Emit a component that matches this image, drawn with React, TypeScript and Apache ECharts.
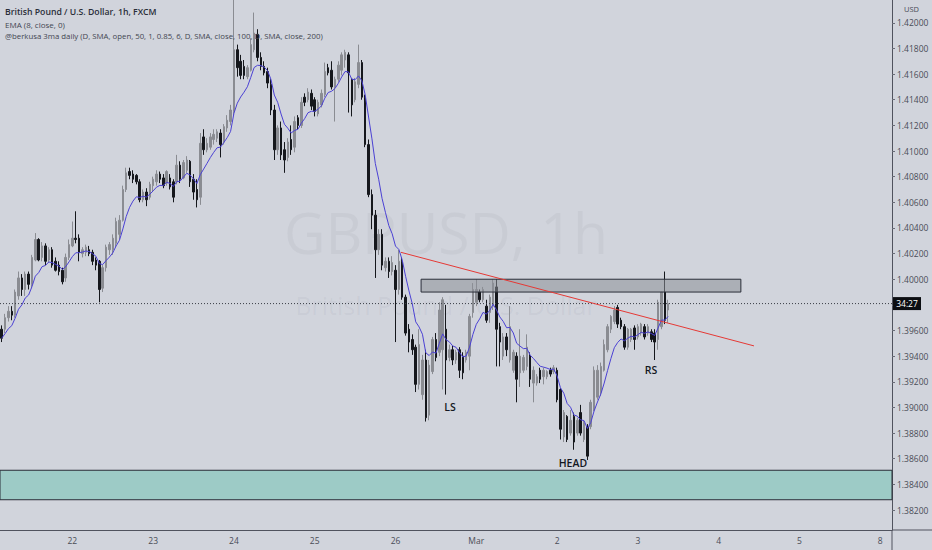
import { useEffect, useRef } from 'react';
import * as echarts from 'echarts';

// GBPUSD 1h (FXCM), one value per hourly candle
const opens = [
  1.3961, 1.3961, 1.3970, 1.3975, 1.3972, 1.3987, 1.4001, 1.3992, 1.4004, 1.3996,
  1.4015, 1.4031, 1.4017, 1.4026, 1.4015, 1.4023, 1.4014, 1.4011, 1.4007, 1.4001,
  1.4017, 1.4026, 1.4032, 1.4032, 1.4020, 1.4021, 1.4023, 1.4021, 1.4015, 1.4014,
  1.3993, 1.4009, 1.4023, 1.4023, 1.4028, 1.4035, 1.4046, 1.4070, 1.4084, 1.4082,
  1.4081, 1.4076, 1.4062, 1.4068, 1.4064, 1.4073, 1.4076, 1.4082, 1.4079, 1.4075,
  1.4079, 1.4076, 1.4076, 1.4089, 1.4079, 1.4085, 1.4092, 1.4078, 1.4070, 1.4064,
  1.4111, 1.4101, 1.4103, 1.4109, 1.4110, 1.4114, 1.4107, 1.4118, 1.4123, 1.4131,
  1.4179, 1.4170, 1.4166, 1.4158, 1.4163, 1.4179, 1.4191, 1.4173, 1.4166, 1.4162,
  1.4152, 1.4132, 1.4101, 1.4118, 1.4101, 1.4095, 1.4109, 1.4103, 1.4126, 1.4120,
  1.4142, 1.4140, 1.4145, 1.4140, 1.4129, 1.4136, 1.4144, 1.4165, 1.4163, 1.4150,
  1.4156, 1.4163, 1.4171, 1.4175, 1.4156, 1.4140, 1.4152, 1.4169, 1.4142, 1.4105,
  1.4066, 1.4050, 1.4023, 1.4035, 1.4009, 1.4014, 1.4006, 1.4007, 1.3992, 1.4014,
  1.3986, 1.3961, 1.3953, 1.3947, 1.3918, 1.3910, 1.3937, 1.3894, 1.3928, 1.3953,
  1.3943, 1.3945, 1.3961, 1.3939, 1.3945, 1.3937, 1.3945, 1.3940, 1.3937, 1.3940,
  1.3974, 1.3982, 1.3990, 1.3984, 1.3979, 1.3974, 1.3979, 1.3994, 1.3963, 1.3940,
  1.3955, 1.3937, 1.3929, 1.3940, 1.3927, 1.3929, 1.3932, 1.3940, 1.3919, 1.3919,
  1.3929, 1.3924, 1.3924, 1.3929, 1.3928, 1.3929, 1.3914, 1.3877, 1.3893, 1.3880,
  1.3893, 1.3880, 1.3896, 1.3875, 1.3885, 1.3885, 1.3898, 1.3908, 1.3912, 1.3929,
  1.3945, 1.3961, 1.3967, 1.3978, 1.3968, 1.3963, 1.3947, 1.3953, 1.3962, 1.3955,
  1.3958, 1.3963, 1.3958, 1.3959, 1.3958, 1.3953, 1.3963, 1.3990, 1.3976,
];
const closes = [
  1.3954, 1.3970, 1.3975, 1.3972, 1.3990, 1.4001, 1.3992, 1.4004, 1.3996, 1.4017,
  1.4031, 1.4015, 1.4026, 1.4014, 1.4023, 1.4011, 1.4007, 1.4006, 1.3998, 1.4017,
  1.4027, 1.4032, 1.4031, 1.4021, 1.4023, 1.4025, 1.4020, 1.4014, 1.4011, 1.3992,
  1.4009, 1.4025, 1.4027, 1.4032, 1.4045, 1.4046, 1.4070, 1.4083, 1.4081, 1.4078,
  1.4076, 1.4062, 1.4068, 1.4062, 1.4074, 1.4078, 1.4082, 1.4078, 1.4073, 1.4084,
  1.4072, 1.4064, 1.4089, 1.4078, 1.4091, 1.4093, 1.4076, 1.4068, 1.4062, 1.4106,
  1.4101, 1.4106, 1.4111, 1.4113, 1.4115, 1.4105, 1.4119, 1.4124, 1.4132, 1.4179,
  1.4165, 1.4159, 1.4159, 1.4165, 1.4183, 1.4192, 1.4173, 1.4166, 1.4161, 1.4153,
  1.4132, 1.4101, 1.4118, 1.4097, 1.4093, 1.4107, 1.4101, 1.4123, 1.4120, 1.4138,
  1.4138, 1.4146, 1.4135, 1.4131, 1.4138, 1.4145, 1.4162, 1.4161, 1.4150, 1.4156,
  1.4167, 1.4175, 1.4177, 1.4161, 1.4136, 1.4154, 1.4169, 1.4142, 1.4105, 1.4066,
  1.4050, 1.4023, 1.4035, 1.4011, 1.4014, 1.4006, 1.4013, 1.3992, 1.4014, 1.3986,
  1.3958, 1.3951, 1.3945, 1.3918, 1.3949, 1.3937, 1.3892, 1.3933, 1.3953, 1.3939,
  1.3976, 1.3984, 1.3937, 1.3945, 1.3937, 1.3943, 1.3929, 1.3927, 1.3943, 1.3971,
  1.3992, 1.3992, 1.3984, 1.3992, 1.3968, 1.3986, 1.3997, 1.3961, 1.3951, 1.3955,
  1.3945, 1.3963, 1.3943, 1.3922, 1.3940, 1.3939, 1.3947, 1.3922, 1.3929, 1.3924,
  1.3922, 1.3929, 1.3928, 1.3926, 1.3931, 1.3906, 1.3883, 1.3896, 1.3875, 1.3890,
  1.3873, 1.3890, 1.3880, 1.3888, 1.3862, 1.3904, 1.3929, 1.3929, 1.3932, 1.3949,
  1.3963, 1.3971, 1.3976, 1.3965, 1.3963, 1.3947, 1.3961, 1.3961, 1.3953, 1.3963,
  1.3965, 1.3955, 1.3963, 1.3953, 1.3951, 1.3982, 1.3990, 1.3968, 1.3981,
];
const lows = [
  1.3951, 1.3958, 1.3967, 1.3968, 1.3970, 1.3984, 1.3987, 1.3987, 1.3992, 1.3993,
  1.4014, 1.4014, 1.4014, 1.4011, 1.4013, 1.4009, 1.4006, 1.4003, 1.3996, 1.3998,
  1.4015, 1.4025, 1.4028, 1.4014, 1.4017, 1.4018, 1.4018, 1.4011, 1.4007, 1.3982,
  1.3990, 1.4006, 1.4019, 1.4019, 1.4025, 1.4031, 1.4045, 1.4068, 1.4078, 1.4075,
  1.4074, 1.4060, 1.4060, 1.4057, 1.4062, 1.4068, 1.4073, 1.4075, 1.4071, 1.4073,
  1.4070, 1.4060, 1.4074, 1.4075, 1.4078, 1.4083, 1.4072, 1.4062, 1.4056, 1.4058,
  1.4097, 1.4099, 1.4101, 1.4105, 1.4107, 1.4095, 1.4105, 1.4115, 1.4120, 1.4128,
  1.4158, 1.4156, 1.4156, 1.4156, 1.4162, 1.4177, 1.4170, 1.4163, 1.4159, 1.4149,
  1.4128, 1.4093, 1.4097, 1.4093, 1.4083, 1.4092, 1.4097, 1.4099, 1.4117, 1.4118,
  1.4135, 1.4138, 1.4132, 1.4127, 1.4127, 1.4134, 1.4142, 1.4159, 1.4148, 1.4123,
  1.4154, 1.4159, 1.4165, 1.4130, 1.4127, 1.4138, 1.4149, 1.4140, 1.4103, 1.4064,
  1.4039, 1.4001, 1.4019, 1.4007, 1.4006, 1.4001, 1.4003, 1.3951, 1.3988, 1.3984,
  1.3956, 1.3943, 1.3941, 1.3912, 1.3914, 1.3906, 1.3889, 1.3890, 1.3926, 1.3936,
  1.3940, 1.3914, 1.3910, 1.3936, 1.3933, 1.3934, 1.3923, 1.3922, 1.3935, 1.3929,
  1.3970, 1.3979, 1.3982, 1.3982, 1.3966, 1.3966, 1.3976, 1.3932, 1.3932, 1.3937,
  1.3940, 1.3935, 1.3927, 1.3904, 1.3916, 1.3927, 1.3929, 1.3916, 1.3904, 1.3917,
  1.3919, 1.3918, 1.3922, 1.3924, 1.3926, 1.3904, 1.3875, 1.3873, 1.3873, 1.3878,
  1.3867, 1.3878, 1.3878, 1.3873, 1.3859, 1.3883, 1.3897, 1.3906, 1.3909, 1.3928,
  1.3943, 1.3958, 1.3965, 1.3962, 1.3961, 1.3945, 1.3945, 1.3951, 1.3945, 1.3953,
  1.3956, 1.3953, 1.3956, 1.3951, 1.3937, 1.3945, 1.3961, 1.3965, 1.3966,
];
const highs = [
  1.3964, 1.3973, 1.3979, 1.3979, 1.3992, 1.4006, 1.4004, 1.4006, 1.4006, 1.4019,
  1.4036, 1.4032, 1.4029, 1.4028, 1.4025, 1.4025, 1.4017, 1.4014, 1.4009, 1.4020,
  1.4031, 1.4045, 1.4053, 1.4035, 1.4025, 1.4027, 1.4026, 1.4023, 1.4017, 1.4015,
  1.4011, 1.4027, 1.4029, 1.4035, 1.4048, 1.4050, 1.4073, 1.4087, 1.4087, 1.4085,
  1.4082, 1.4078, 1.4070, 1.4071, 1.4076, 1.4080, 1.4085, 1.4084, 1.4082, 1.4085,
  1.4082, 1.4078, 1.4097, 1.4092, 1.4093, 1.4096, 1.4093, 1.4082, 1.4078, 1.4114,
  1.4117, 1.4110, 1.4114, 1.4117, 1.4117, 1.4117, 1.4121, 1.4128, 1.4136, 1.4234,
  1.4183, 1.4175, 1.4171, 1.4167, 1.4188, 1.4208, 1.4195, 1.4177, 1.4170, 1.4165,
  1.4156, 1.4136, 1.4120, 1.4123, 1.4107, 1.4110, 1.4120, 1.4127, 1.4128, 1.4142,
  1.4145, 1.4149, 1.4148, 1.4142, 1.4140, 1.4148, 1.4169, 1.4168, 1.4170, 1.4158,
  1.4170, 1.4177, 1.4179, 1.4177, 1.4157, 1.4157, 1.4183, 1.4171, 1.4144, 1.4109,
  1.4070, 1.4054, 1.4039, 1.4039, 1.4017, 1.4017, 1.4018, 1.4011, 1.4023, 1.4017,
  1.3988, 1.3965, 1.3957, 1.3949, 1.3961, 1.3941, 1.3945, 1.3937, 1.3955, 1.3958,
  1.3982, 1.3986, 1.3980, 1.3949, 1.3948, 1.3945, 1.3947, 1.3943, 1.3945, 1.3973,
  1.3997, 1.4000, 1.3992, 1.3994, 1.3984, 1.3988, 1.4000, 1.4000, 1.3966, 1.3958,
  1.3958, 1.3979, 1.3945, 1.3943, 1.3961, 1.3941, 1.3957, 1.3943, 1.3932, 1.3926,
  1.3931, 1.3931, 1.3929, 1.3931, 1.3933, 1.3931, 1.3915, 1.3898, 1.3894, 1.3898,
  1.3896, 1.3892, 1.3902, 1.3890, 1.3887, 1.3906, 1.3932, 1.3933, 1.3935, 1.3953,
  1.3965, 1.3972, 1.3979, 1.3980, 1.3970, 1.3965, 1.3962, 1.3962, 1.3964, 1.3965,
  1.3966, 1.3965, 1.3965, 1.3961, 1.3961, 1.3984, 1.3990, 1.4006, 1.3984,
];

// time axis: hourly slots, day labels at the first hour of each trading day
const dayLabels = ['22', '23', '24', '25', '26', 'Mar', '2', '3', '4', '5', '8'];
const dayStarts = [21, 45, 69, 93, 117, 141, 165, 189, 213, 237, 261];
const SLOT_COUNT = 265;

const Y_MIN = 1.38044;
const Y_MAX = 1.42178;

// drawings
const zonePrices = [1.3851, 1.3828];
const boxSlots = [124.6, 219.6];
const boxPrices = [1.4, 1.399];
const trendSlots = [118.6, 223.5];
const trendPrices = [1.4021, 1.3948];
const patternNames = ['LS', 'HEAD', 'RS'];
const patternSlots = [133.2, 169.7, 192.9];
const patternPrices = [1.39, 1.3857, 1.3929];

const BG = '#d1d4dc';
const FONT = '"Open Sans", "Noto Sans", sans-serif';
const GRID_RIGHT = 40;
const GRID_BOTTOM = 20;

export default function App() {
  const chartRef = useRef<HTMLDivElement>(null);

  useEffect(() => {
    if (!chartRef.current) return;
    const chart = echarts.init(chartRef.current, undefined, { renderer: 'svg' });

    const slots = Array.from({ length: SLOT_COUNT }, (_, i) => String(i));
    const isDayStart = (idx: number) => dayStarts.includes(idx);
    const candles = opens.map((o, i) => [o, closes[i], lows[i], highs[i]]);

    // EMA (8, close)
    const ema: number[] = [];
    closes.forEach((c, i) => {
      ema.push(i === 0 ? c : ema[i - 1] + ((c - ema[i - 1]) * 2) / 9);
    });
    const lastClose = closes[closes.length - 1];

    chart.setOption({
      animation: false,
      backgroundColor: BG,
      grid: { left: 0, right: GRID_RIGHT, top: 0, bottom: GRID_BOTTOM, containLabel: false },
      xAxis: {
        type: 'category',
        data: slots,
        boundaryGap: true,
        axisLine: { lineStyle: { color: '#50535e', width: 1 } },
        axisTick: { interval: isDayStart, alignWithLabel: true, length: 3, lineStyle: { color: '#6a6d78' } },
        axisLabel: {
          interval: isDayStart,
          formatter: (_v: string, idx: number) => dayLabels[dayStarts.indexOf(idx)] ?? '',
          fontSize: 8.5,
          fontFamily: FONT,
          color: '#4a4d57',
          margin: 6,
        },
        splitLine: { show: false },
      },
      yAxis: {
        type: 'value',
        position: 'right',
        min: Y_MIN,
        max: Y_MAX,
        splitNumber: 20,
        axisLine: { show: true, lineStyle: { color: '#50535e', width: 1 } },
        axisTick: { show: true, length: 3, lineStyle: { color: '#6a6d78' } },
        axisLabel: {
          // the 1.39800 label sits under the last-price tag
          formatter: (v: number) => (Math.abs(v - 1.398) < 1e-7 ? '' : v.toFixed(5)),
          fontSize: 8.5,
          fontFamily: FONT,
          color: '#4a4d57',
          margin: 5,
          showMinLabel: false,
          showMaxLabel: false,
        },
        splitLine: { show: false },
      },
      series: [
        {
          name: 'GBPUSD',
          type: 'candlestick',
          data: candles,
          barWidth: 2,
          clip: true,
          itemStyle: {
            color: '#8a8c92',
            color0: '#15171c',
            borderColor: '#8a8c92',
            borderColor0: '#15171c',
            borderWidth: 1,
          },
          markArea: {
            silent: true,
            itemStyle: { color: '#9dcbc6', borderColor: '#2a2e39', borderWidth: 1 },
            data: [[{ yAxis: zonePrices[0] }, { yAxis: zonePrices[1] }]],
          },
        },
        {
          name: 'EMA 8',
          type: 'line',
          data: ema,
          showSymbol: false,
          smooth: false,
          z: 3,
          lineStyle: { color: '#4b41d4', width: 1 },
        },
      ],
    });

    const toPx = (slot: number, price: number) => {
      const a = chart.convertToPixel({ gridIndex: 0 }, [0, price]) as number[];
      const b = chart.convertToPixel({ gridIndex: 0 }, [1, price]) as number[];
      return [a[0] + slot * (b[0] - a[0]), a[1]];
    };

    const W = chart.getWidth();
    const H = chart.getHeight();
    const plotRight = W - GRID_RIGHT;
    const plotBottom = H - GRID_BOTTOM;
    const midX = plotRight / 2;

    const boxTL = toPx(boxSlots[0], boxPrices[0]);
    const boxBR = toPx(boxSlots[1], boxPrices[1]);
    const t1 = toPx(trendSlots[0], trendPrices[0]);
    const t2 = toPx(trendSlots[1], trendPrices[1]);
    const lastY = toPx(0, lastClose)[1];

    const graphic: any[] = [
      // watermark
      {
        type: 'text', x: midX, y: 232, z: 0,
        style: { text: 'GBPUSD, 1h', fontSize: 57, fontFamily: FONT, fill: 'rgba(110,115,130,0.08)', textAlign: 'center', textVerticalAlign: 'middle' },
      },
      {
        type: 'text', x: midX, y: 305, z: 0,
        style: { text: 'British Pound / U.S. Dollar', fontSize: 25, fontFamily: FONT, fill: 'rgba(110,115,130,0.08)', textAlign: 'center', textVerticalAlign: 'middle' },
      },
      // legend
      {
        type: 'text', x: 5, y: 12, z: 20,
        style: { text: 'British Pound / U.S. Dollar, 1h, FXCM', fontSize: 8.7, fontWeight: 600, fontFamily: FONT, fill: '#2a2e39', textVerticalAlign: 'middle' },
      },
      {
        type: 'text', x: 5, y: 24, z: 20,
        style: { text: 'EMA (8, close, 0)', fontSize: 8, fontFamily: FONT, fill: '#434651', textVerticalAlign: 'middle' },
      },
      {
        type: 'text', x: 5, y: 36, z: 20,
        style: { text: '@berkusa 3ma daily (D, SMA, open, 50, 1, 0.85, 6, D, SMA, close, 100, D, SMA, close, 200)', fontSize: 7.8, fontFamily: FONT, fill: '#434651', textVerticalAlign: 'middle' },
      },
      // last price line
      {
        type: 'line', z: 4,
        shape: { x1: 0, y1: lastY, x2: plotRight, y2: lastY },
        style: { stroke: '#3a3d46', lineWidth: 1, lineDash: [1, 2] },
      },
      // resistance box
      {
        type: 'rect', z: 10,
        shape: { x: boxTL[0], y: boxTL[1], width: boxBR[0] - boxTL[0], height: boxBR[1] - boxTL[1] },
        style: { fill: 'rgba(140,143,152,0.55)', stroke: '#2a2e39', lineWidth: 1 },
      },
      // trend line
      {
        type: 'line', z: 11,
        shape: { x1: t1[0], y1: t1[1], x2: t2[0], y2: t2[1] },
        style: { stroke: '#e53935', lineWidth: 1 },
      },
      // axis line continuations
      { type: 'line', z: 5, shape: { x1: plotRight, y1: plotBottom, x2: W, y2: plotBottom }, style: { stroke: '#50535e', lineWidth: 1 } },
      { type: 'line', z: 5, shape: { x1: plotRight, y1: plotBottom, x2: plotRight, y2: H }, style: { stroke: '#50535e', lineWidth: 1 } },
      // axis unit
      {
        type: 'text', x: plotRight + 12, y: 9, z: 20,
        style: { text: 'USD', fontSize: 7.5, fontFamily: FONT, fill: '#4a4d57', textVerticalAlign: 'middle' },
      },
      // last price countdown tag
      {
        type: 'rect', z: 20,
        shape: { x: plotRight + 1, y: lastY - 6.5, width: 28, height: 13 },
        style: { fill: '#0c0e12' },
      },
      {
        type: 'text', x: plotRight + 15, y: lastY, z: 21,
        style: { text: '34:27', fontSize: 8.5, fontFamily: FONT, fill: '#ffffff', textAlign: 'center', textVerticalAlign: 'middle' },
      },
    ];

    patternNames.forEach((name, i) => {
      const p = toPx(patternSlots[i], patternPrices[i]);
      graphic.push({
        type: 'text', x: p[0], y: p[1], z: 20,
        style: { text: name, fontSize: 10.5, fontWeight: 600, fontFamily: FONT, fill: '#131722', textAlign: 'center', textVerticalAlign: 'middle' },
      });
    });

    chart.setOption({ graphic });

    return () => chart.dispose();
  }, []);

  return (
    <div
      ref={chartRef}
      style={{ position: 'fixed', left: 0, top: 0, width: 932, height: 550, background: BG }}
    />
  );
}
